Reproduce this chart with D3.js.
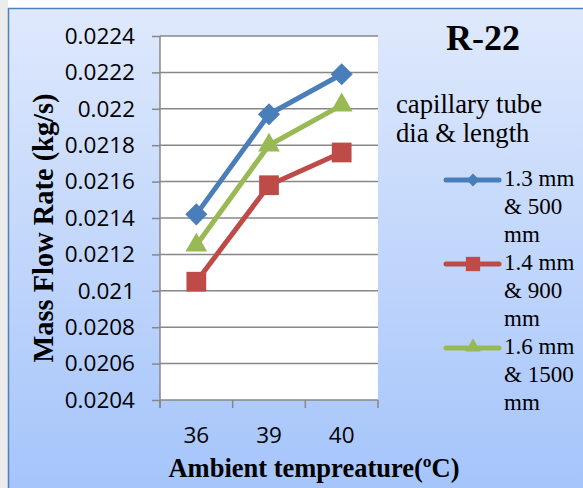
<!DOCTYPE html>
<html>
<head>
<meta charset="utf-8">
<script src="https://cdn.jsdelivr.net/npm/d3@7"></script>
<style>
  html, body { margin: 0; padding: 0; background: #fff; }
  svg { display: block; }
</style>
</head>
<body>
<div id="chart"></div>
<script>
// values
const temps = ["36", "39", "40"];
const tube13 = [0.02142, 0.02197, 0.02219];
const tube14 = [0.02105, 0.02158, 0.02176];
const tube16 = [0.02125, 0.02180, 0.02202];
const seriesNames = [["1.3 mm", "& 500", "mm"], ["1.4 mm", "& 900", "mm"], ["1.6 mm", "& 1500", "mm"]];
const yTicks = [0.0204, 0.0206, 0.0208, 0.021, 0.0212, 0.0214, 0.0216, 0.0218, 0.022, 0.0222, 0.0224];

const w = 583, h = 488;
const plotL = 160, plotR = 378, plotT = 36, plotB = 400;

// marker sizes: [plot, legend]
const series = [
  {name: seriesNames[0], values: tube13, color: "#4a7ebb", shape: d3.symbolSquare, rot: 45, size: [245, 85]},
  {name: seriesNames[1], values: tube14, color: "#be4b48", shape: d3.symbolSquare, rot: 0, size: [390, 205]},
  {name: seriesNames[2], values: tube16, color: "#98b954", shape: d3.symbolTriangle, rot: 0, size: [205, 100]}
];

const svg = d3.select("#chart").append("svg").attr("width", w).attr("height", h);

const defs = svg.append("defs");
const grad = defs.append("linearGradient").attr("id", "bg").attr("x1", 0).attr("y1", 0).attr("x2", 0).attr("y2", 1);
grad.append("stop").attr("offset", "0%").attr("stop-color", "#dfe9fc");
grad.append("stop").attr("offset", "100%").attr("stop-color", "#a4c4fb");

// chart area
svg.append("rect").attr("x", 0).attr("y", 0).attr("width", 8).attr("height", h).attr("fill", "#ececec");
svg.append("rect").attr("x", 8.5).attr("y", 8.5).attr("width", w).attr("height", h)
  .attr("fill", "url(#bg)").attr("stroke", "#4f81bd").attr("stroke-width", 1.5);

// plot area
svg.append("rect").attr("x", plotL).attr("y", plotT).attr("width", plotR - plotL).attr("height", plotB - plotT).attr("fill", "#fff");

const xScale = d3.scaleBand().domain(temps).range([plotL, plotR]);
const yScale = d3.scaleLinear().domain([0.0204, 0.0224]).range([plotB, plotT]);

// gridlines
svg.append("g").selectAll("line").data(yTicks).enter().append("line")
  .attr("x1", plotL).attr("x2", plotR)
  .attr("y1", d => yScale(d)).attr("y2", d => yScale(d))
  .attr("stroke", "#878787").attr("stroke-width", 1.5);

const yAxis = d3.axisLeft(yScale).tickValues(yTicks).tickSize(8).tickPadding(17).tickFormat(d => String(+d.toFixed(4)));
const gy = svg.append("g").attr("transform", `translate(${plotL},0)`).call(yAxis);
gy.select(".domain").attr("d", `M0,${plotT}V${plotB + 8}`);

const xAxis = d3.axisBottom(xScale).tickSize(0).tickPadding(27);
const gx = svg.append("g").attr("transform", `translate(0,${plotB})`).call(xAxis);
gx.select(".domain").remove();
// category boundary ticks
gx.append("g").selectAll("line").data([0, 1, 2, 3]).enter().append("line")
  .attr("x1", d => plotL + d * xScale.step()).attr("x2", d => plotL + d * xScale.step())
  .attr("y1", 0).attr("y2", 8).attr("stroke", "#878787").attr("stroke-width", 1.5);

svg.selectAll(".tick line").attr("stroke", "#878787").attr("stroke-width", 1.5);
svg.selectAll(".domain").attr("stroke", "#878787").attr("stroke-width", 1.5);
svg.selectAll(".tick text").attr("font-family", "'Open Sans', sans-serif").attr("font-size", 22.5).attr("fill", "#000");

// lines and markers
const cx = i => xScale(temps[i]) + xScale.bandwidth() / 2;
const line = d3.line().x((d, i) => cx(i)).y(d => yScale(d));

series.forEach(s => {
  svg.append("path").datum(s.values).attr("d", line)
    .attr("fill", "none").attr("stroke", s.color).attr("stroke-width", 5).attr("stroke-linejoin", "round");
  svg.append("g").selectAll("path").data(s.values).enter().append("path")
    .attr("d", d3.symbol().type(s.shape).size(s.size[0]))
    .attr("transform", (d, i) => `translate(${cx(i)},${yScale(d)}) rotate(${s.rot})`)
    .attr("fill", s.color);
});

// titles
const serif = "'Liberation Serif', 'Times New Roman', serif";
svg.append("text").attr("x", 483).attr("y", 50).attr("text-anchor", "middle")
  .attr("font-family", serif).attr("font-weight", "bold").attr("font-size", 36).text("R-22");

svg.append("text").attr("x", 314).attr("y", 477).attr("text-anchor", "middle")
  .attr("font-family", serif).attr("font-weight", "bold").attr("font-size", 26.5).text("Ambient tempreature(ºC)");

svg.append("text").attr("transform", "translate(53,228) rotate(-90)").attr("text-anchor", "middle")
  .attr("font-family", serif).attr("font-weight", "bold").attr("font-size", 30)
  .attr("textLength", 269).attr("lengthAdjust", "spacingAndGlyphs").text("Mass Flow Rate (kg/s)");

// legend
const legendTitle = ["capillary tube", "dia & length"];
svg.append("g").selectAll("text").data(legendTitle).enter().append("text")
  .attr("x", 396).attr("y", (d, i) => 113 + i * 29)
  .attr("font-family", serif).attr("font-size", 26.7).text(d => d);

const legend = svg.append("g");
series.forEach((s, k) => {
  const ly = 180 + k * 84;
  legend.append("line").attr("x1", 446).attr("x2", 499).attr("y1", ly).attr("y2", ly)
    .attr("stroke", s.color).attr("stroke-width", 5).attr("stroke-linecap", "round");
  legend.append("path")
    .attr("d", d3.symbol().type(s.shape).size(s.size[1]))
    .attr("transform", `translate(473,${ly + (s.shape === d3.symbolTriangle ? -1 : 0)}) rotate(${s.rot})`)
    .attr("fill", s.color);
  legend.append("g").selectAll("text").data(s.name).enter().append("text")
    .attr("x", 504).attr("y", (d, i) => ly + 6 + i * 28)
    .attr("font-family", serif).attr("font-size", 23).text(d => d);
});
</script>
</body>
</html>
